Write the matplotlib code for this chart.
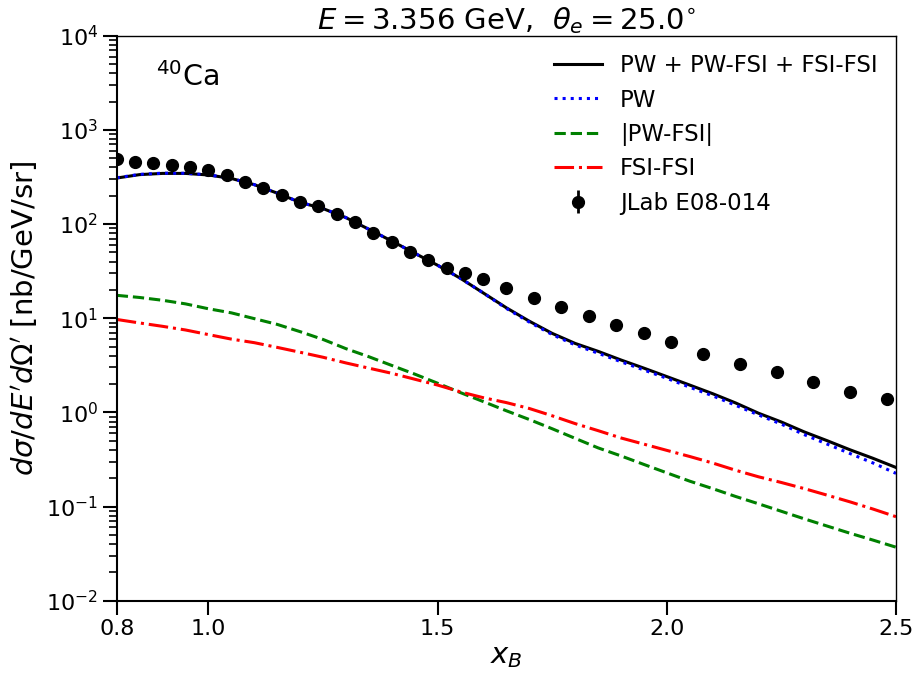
import numpy as np
import matplotlib

matplotlib.use('Agg')
import matplotlib.pyplot as plt
from matplotlib.ticker import FixedLocator, FormatStrFormatter, LogLocator

# --- theory curves ---
x_th = [0.80, 0.85, 0.90, 0.95, 1.00, 1.05, 1.10, 1.15, 1.20, 1.25, 1.30, 1.35,
        1.40, 1.45, 1.50, 1.55, 1.60, 1.65, 1.70, 1.75, 1.80, 1.85, 1.90, 1.95,
        2.00, 2.05, 2.10, 2.15, 2.20, 2.25, 2.30, 2.35, 2.40, 2.45, 2.50]

total = [308, 335, 345, 345, 332, 305, 262, 213, 170, 146, 117, 88,
         66, 49, 36.5, 26.5, 18.5, 12.9, 9.3, 6.9, 5.4, 4.45, 3.6, 2.95,
         2.4, 1.95, 1.58, 1.26, 0.98, 0.79, 0.62, 0.50, 0.40, 0.325, 0.26]

pw = [310, 337, 347, 346, 333, 306, 262, 213, 170, 146, 117, 88,
      66, 49, 36.5, 26.5, 18.5, 12.7, 9.1, 6.7, 5.2, 4.25, 3.45, 2.82,
      2.3, 1.85, 1.5, 1.19, 0.94, 0.75, 0.58, 0.46, 0.365, 0.29, 0.225]

pw_fsi = [17.5, 16.6, 15.5, 14.2, 12.6, 11.4, 9.9, 8.6, 7.2, 5.95, 4.75, 3.9,
          3.15, 2.55, 2.04, 1.62, 1.3, 1.04, 0.84, 0.67, 0.53, 0.42, 0.345, 0.28,
          0.228, 0.186, 0.155, 0.128, 0.107, 0.089, 0.074, 0.062, 0.052, 0.044, 0.037]

fsi_fsi = [9.7, 8.9, 8.2, 7.5, 6.7, 6.0, 5.5, 4.9, 4.35, 3.85, 3.35, 2.95,
           2.6, 2.25, 1.95, 1.65, 1.43, 1.27, 1.1, 0.92, 0.76, 0.64, 0.535, 0.46,
           0.395, 0.34, 0.29, 0.243, 0.207, 0.18, 0.155, 0.132, 0.112, 0.094, 0.078]

# --- JLab E08-014 data ---
x_exp = [0.80, 0.84, 0.88, 0.92, 0.96, 1.00, 1.04, 1.08, 1.12, 1.16, 1.20, 1.24,
         1.28, 1.32, 1.36, 1.40, 1.44, 1.48, 1.52, 1.56, 1.60, 1.65, 1.71, 1.77,
         1.83, 1.89, 1.95, 2.01, 2.08, 2.16, 2.24, 2.32, 2.40, 2.48]
y_exp = [487, 459, 442, 424, 400, 375, 334, 282, 243, 205, 171, 154,
         127, 105, 80, 65, 50.8, 41.5, 33.9, 30.0, 25.9, 20.8, 16.3, 13.1,
         10.5, 8.47, 6.91, 5.59, 4.20, 3.29, 2.70, 2.10, 1.63, 1.38]
rel_err = 0.03  # error bars are hidden behind the markers

xticks = [0.8, 1.0, 1.5, 2.0, 2.5]

fig = plt.figure(figsize=(9.17, 6.79), dpi=100)
ax = fig.add_axes([0.1273, 0.1153, 0.8498, 0.8321])

l1, = ax.plot(x_th, total, color='black', lw=2.2, label='PW + PW-FSI + FSI-FSI')
l2, = ax.plot(x_th, pw, color='blue', lw=2.2, linestyle=':', label='PW')
l3, = ax.plot(x_th, pw_fsi, color='green', lw=2.2, linestyle='--', label='|PW-FSI|')
l4, = ax.plot(x_th, fsi_fsi, color='red', lw=2.2, linestyle='-.', label='FSI-FSI')
eb = ax.errorbar(x_exp, y_exp, yerr=np.array(y_exp) * rel_err, fmt='o', color='black',
                 ms=8.5, elinewidth=2, label='JLab E08-014')

ax.set_yscale('log')
ax.set_xlim(0.8, 2.5)
ax.set_ylim(1e-2, 1e4)
ax.xaxis.set_major_locator(FixedLocator(xticks))
ax.xaxis.set_major_formatter(FormatStrFormatter('%.1f'))
ax.yaxis.set_major_locator(LogLocator(base=10, numticks=10))
ax.yaxis.set_minor_locator(LogLocator(base=10, subs=np.arange(2, 10), numticks=20))

ax.tick_params(axis='both', which='major', direction='out', length=10, width=1.5,
               labelsize=16, top=False, right=False)
ax.tick_params(axis='y', which='minor', direction='out', length=6, width=1.2, right=False)
for s in ['left', 'bottom']:
    ax.spines[s].set_linewidth(1.5)
for s in ['top', 'right']:
    ax.spines[s].set_linewidth(1.0)

ax.set_xlabel(r'$x_B$', fontsize=21, labelpad=2)
ax.set_ylabel(r"$d\sigma/dE'd\Omega'$ [nb/GeV/sr]", fontsize=21)
ax.set_title(r'$E = 3.356$ GeV, $\ \theta_e = 25.0^{\circ}$', fontsize=21, pad=5)
ax.text(0.05, 0.927, r'$^{40}$Ca', transform=ax.transAxes, fontsize=20.5, va='center')

ax.legend(handles=[l1, l2, l3, l4, eb], loc='upper right', frameon=False, fontsize=16.5,
          handlelength=2.1, labelspacing=0.5, borderaxespad=0.4)

fig.savefig('out.png', dpi=100)
